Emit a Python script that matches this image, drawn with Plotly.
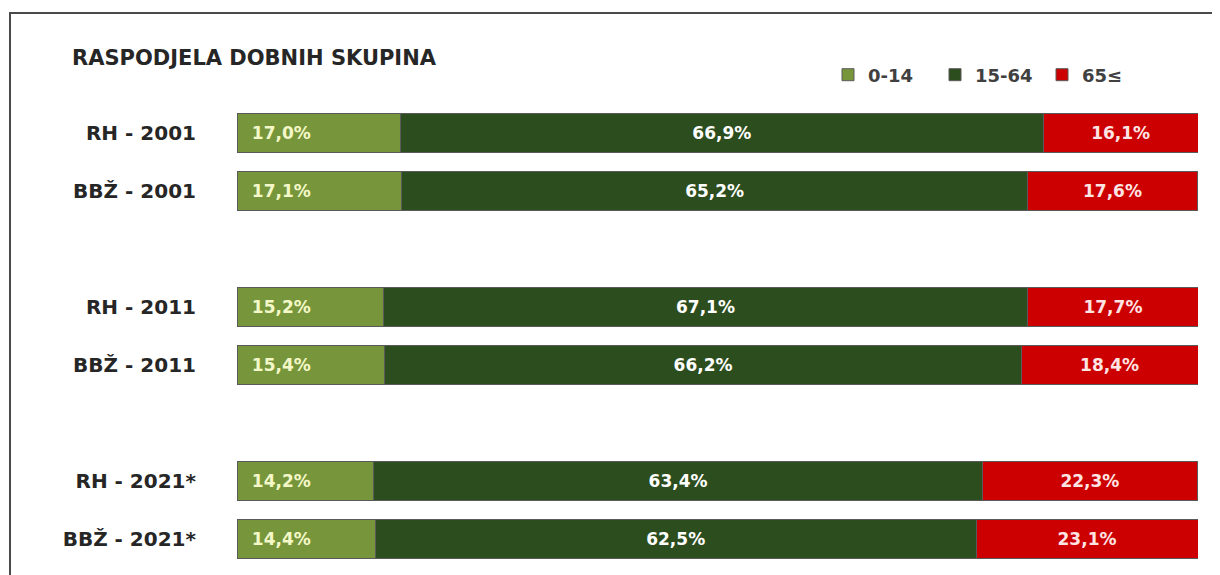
import plotly.graph_objects as go

categories = ["RH - 2001", "BBŽ - 2001", " ", "RH - 2011", "BBŽ - 2011", "  ", "RH - 2021*", "BBŽ - 2021*"]
age_0_14 = [17.0, 17.1, None, 15.2, 15.4, None, 14.2, 14.4]
age_15_64 = [66.9, 65.2, None, 67.1, 66.2, None, 63.4, 62.5]
age_65 = [16.1, 17.6, None, 17.7, 18.4, None, 22.3, 23.1]
series_names = ["0-14", "15-64", "65≤"]

colors = ["#77963B", "#2C4D1D", "#CC0000"]
text_colors = ["#F4F8C8", "#FFFFFF", "#FFE4E4"]
FONT = "DejaVu Sans"

# page body has an 8px margin; figure coordinates below are shifted accordingly
W, H = 1212, 567
ML, MR, MT, MB = 229, 22, 96, 7

fig = go.Figure()
for name, vals, col, tcol, anchor, tmpl in zip(
        series_names, [age_0_14, age_15_64, age_65], colors, text_colors,
        ["start", "middle", "middle"],
        ["\u00a0\u00a0%{x:.1f}%", "%{x:.1f}%", "%{x:.1f}%"]):
    fig.add_trace(go.Bar(
        y=categories, x=vals, name=name, orientation="h",
        marker=dict(color=col, line=dict(color="#5a5a5a", width=1)),
        texttemplate=tmpl, textposition="inside",
        insidetextanchor=anchor,
        textfont=dict(family=FONT, size=17, color=tcol, weight="bold"),
        hoverinfo="skip",
    ))

fig.update_layout(
    barmode="stack",
    bargap=0.33,
    separators=",.",
    width=W, height=H,
    margin=dict(l=ML, r=MR, t=MT, b=MB, autoexpand=False),
    paper_bgcolor="white", plot_bgcolor="white",
    font=dict(family=FONT, color="#262626"),
    title=dict(text="RASPODJELA DOBNIH SKUPINA", x=64/W, xanchor="left",
               y=1 - 50/H, yanchor="middle",
               font=dict(family=FONT, size=21, color="#262626", weight="bold")),
    legend=dict(orientation="h", xref="container", yref="container",
                x=820/W, y=1 - 67/H,
                yanchor="middle", xanchor="left", traceorder="normal",
                font=dict(family=FONT, size=18, color="#404040", weight="bold"),
                itemwidth=30, entrywidth=62, tracegroupgap=0,
                bgcolor="rgba(0,0,0,0)"),
    showlegend=True,
    uniformtext=dict(mode=False),
)
fig.update_xaxes(range=[0, 100], visible=False, fixedrange=True)
fig.update_yaxes(categoryorder="array", categoryarray=categories, autorange="reversed",
                 showline=False, showgrid=False, ticks="", ticklabelstandoff=40,
                 tickfont=dict(family=FONT, size=20, color="#262626", weight="bold"))

plot_w, plot_h = W - ML - MR, H - MT - MB
fig.add_shape(type="rect", xref="paper", yref="paper",
              x0=-(ML - 2) / plot_w, x1=1.2, y0=-0.5, y1=1 + (MT - 5) / plot_h,
              line=dict(color="#4a4a4a", width=2), fillcolor="rgba(0,0,0,0)", layer="below")

fig.write_html("out.html")
